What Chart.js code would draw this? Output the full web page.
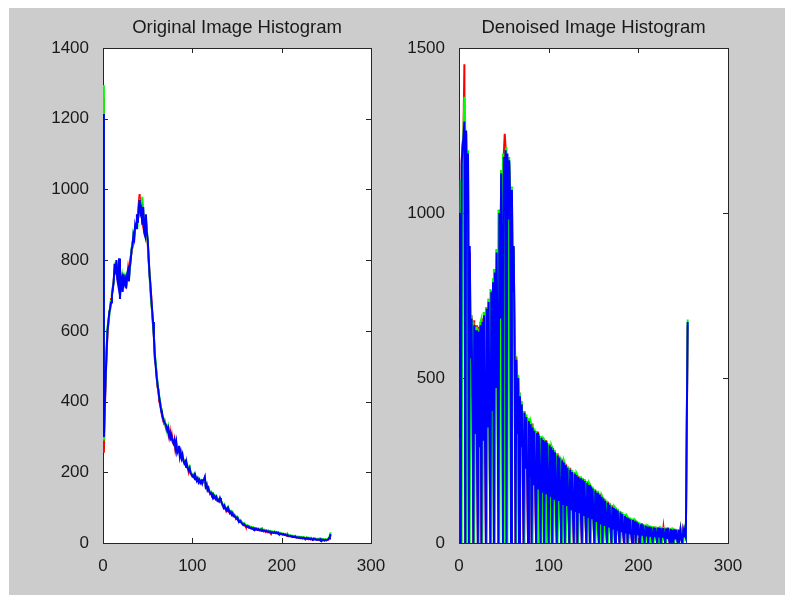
<!DOCTYPE html>
<html>
<head>
<meta charset="utf-8">
<title>Image Histograms</title>
<script src="https://cdn.jsdelivr.net/npm/chart.js@4.4.1/dist/chart.umd.min.js"></script>
<style>
  html, body { margin: 0; padding: 0; background: #ffffff; }
  body { width: 785px; height: 595px; position: relative; overflow: hidden; }
  #figure { position: absolute; left: 9px; top: 8px; width: 776px; height: 587px; background: #cccccc; }
  canvas { position: absolute; top: 0; }
  #left { left: 0; }
  #right { left: 392px; }
</style>
</head>
<body>
<div id="figure"></div>
<canvas id="left" width="392" height="595"></canvas>
<canvas id="right" width="393" height="595"></canvas>
<script>
// intensity bins 0..255
const bins = Array.from({ length: 256 }, (_, i) => i);

const xTicks = [0, 100, 200, 300];
const origTicks = [0, 200, 400, 600, 800, 1000, 1200, 1400];
const denTicks = [0, 500, 1000, 1500];

// Original image histogram (counts per bin)
const origRed = [
  1260, 255, 370, 460, 530, 590, 620, 655, 660, 690, 705,
  715, 745, 770, 770, 790, 750, 740, 790, 700, 735,
  745, 720, 750, 745, 740, 730, 750, 775, 750, 790,
  810, 820, 850, 860, 870, 890, 900, 920, 915, 960,
  987, 940, 930, 910, 940, 890, 880, 915, 875, 850,
  800, 770, 725, 700, 650, 615, 585, 520, 505, 475,
  440, 435, 400, 390, 380, 360, 350, 340, 345, 330,
  320, 325, 315, 300, 315, 290, 305, 285, 280, 292,
  265, 280, 260, 258, 270, 250, 252, 245, 245, 235,
  228, 225, 218, 218, 212, 200, 208, 200, 192, 188,
  190, 188, 182, 180, 178, 176, 175, 172, 172, 170,
  170, 172, 176, 180, 158, 162, 152, 150, 147, 138,
  140, 137, 135, 130, 128, 127, 126, 122, 118, 120,
  122, 118, 114, 105, 102, 100, 98, 90, 95, 92,
  88, 86, 85, 82, 80, 78, 75, 76, 68, 70,
  68, 62, 62, 60, 58, 53, 52, 50, 51, 46,
  47, 45, 45, 43, 44, 41, 42, 40, 40, 38,
  40, 38, 38, 37, 37, 35, 39, 34, 37, 33,
  36, 32, 35, 31, 34, 30, 33, 29, 32, 29,
  30, 30, 29, 28, 28, 27, 27, 26, 26, 25,
  25, 24, 24, 22, 23, 20, 23, 19, 20, 19,
  19, 17, 18, 17, 17, 16, 16, 15, 16, 14,
  15, 14, 14, 13, 15, 12, 13, 12, 13, 11,
  13, 10, 12, 10, 11, 11, 11, 10, 10, 9,
  11, 8, 10, 9, 9, 7, 10, 7, 8, 7,
  8, 9, 12, 17, 22
];
const origGreen = [
  1295, 290, 400, 480, 550, 610, 630, 640, 670, 685, 710,
  725, 735, 780, 770, 795, 760, 745, 795, 700, 750,
  760, 715, 765, 740, 750, 725, 765, 765, 745, 775,
  795, 835, 835, 875, 865, 895, 895, 925, 910, 945,
  960, 945, 950, 979, 945, 885, 865, 925, 890, 855,
  810, 765, 710, 680, 655, 620, 585, 535, 510, 480,
  455, 425, 415, 400, 380, 370, 360, 350, 335, 338,
  335, 315, 328, 310, 305, 300, 298, 292, 286, 288,
  275, 282, 262, 265, 272, 250, 255, 245, 248, 238,
  230, 228, 220, 225, 212, 210, 215, 200, 198, 192,
  190, 195, 184, 186, 180, 184, 175, 180, 172, 176,
  170, 175, 178, 185, 163, 168, 154, 158, 148, 143,
  145, 138, 140, 131, 135, 128, 132, 124, 125, 121,
  125, 122, 115, 110, 103, 108, 99, 96, 100, 93,
  95, 88, 90, 83, 87, 79, 81, 77, 73, 75,
  69, 67, 63, 65, 60, 58, 54, 56, 53, 50,
  49, 50, 47, 48, 45, 46, 43, 45, 42, 43,
  41, 42, 40, 41, 39, 40, 40, 37, 38, 36,
  37, 35, 36, 34, 35, 33, 34, 32, 33, 32,
  31, 33, 30, 31, 29, 31, 28, 29, 27, 28,
  26, 27, 25, 26, 24, 23, 24, 22, 21, 22,
  20, 21, 19, 20, 18, 19, 17, 18, 17, 18,
  16, 17, 15, 17, 16, 15, 14, 16, 14, 15,
  14, 13, 15, 13, 12, 14, 12, 13, 11, 12,
  12, 11, 13, 10, 12, 10, 11, 9, 11, 10,
  11, 12, 16, 24, 30
];
const origBlue = [
  1213, 300, 390, 470, 540, 600, 625, 650, 665, 680,
  700, 720, 740, 790, 760, 800, 745, 730, 805, 690,
  740, 750, 710, 760, 735, 745, 720, 760, 770, 740,
  780, 800, 830, 840, 870, 860, 900, 890, 930, 905,
  950, 970, 935, 945, 900, 950, 880, 870, 930, 880,
  860, 815, 760, 735, 690, 660, 625, 580, 530, 500,
  470, 450, 430, 410, 395, 375, 365, 355, 345, 340,
  335, 330, 318, 325, 305, 312, 296, 300, 288, 282,
  290, 270, 285, 255, 262, 275, 245, 258, 240, 250,
  232, 225, 230, 215, 222, 210, 205, 212, 198, 195,
  190, 187, 192, 180, 185, 176, 182, 172, 178, 170,
  175, 168, 178, 180, 187, 160, 165, 150, 155, 145,
  140, 142, 135, 138, 128, 132, 125, 130, 120, 122,
  118, 127, 120, 112, 108, 100, 105, 96, 93, 98,
  90, 92, 85, 88, 80, 84, 76, 78, 74, 70,
  72, 66, 64, 60, 62, 57, 55, 51, 53, 50,
  48, 46, 48, 44, 45, 42, 43, 40, 42, 39,
  41, 38, 40, 37, 39, 36, 37, 38, 35, 36,
  34, 35, 33, 34, 32, 33, 31, 32, 30, 31,
  30, 29, 31, 28, 30, 27, 29, 26, 27, 25,
  26, 24, 25, 23, 24, 22, 21, 22, 20, 19,
  20, 18, 19, 17, 18, 16, 17, 15, 16, 15,
  16, 14, 15, 13, 15, 14, 13, 12, 14, 12,
  13, 12, 11, 13, 11, 10, 12, 10, 11, 9,
  10, 10, 9, 11, 8, 10, 8, 9, 7, 9,
  8, 9, 10, 14, 20, 25
];

// Denoised image histogram (counts per bin, combed)
const denRed = [
  335, 990, 0, 1160, 1210, 1240, 1451, 0, 1240, 980,
  1170, 0, 880, 570, 690, 580, 0, 675, 340, 660,
  310, 0, 655, 300, 670, 0, 680, 320, 700, 340,
  0, 715, 355, 740, 380, 0, 765, 410, 795, 0,
  830, 480, 890, 570, 0, 1010, 690, 1130, 860, 0,
  1180, 1240, 1195, 0, 1170, 990, 1150, 1060, 0, 1065,
  770, 890, 610, 0, 565, 340, 505, 0, 455, 295,
  425, 265, 0, 400, 230, 388, 220, 0, 375, 205,
  365, 0, 362, 180, 345, 172, 0, 338, 166, 330,
  162, 0, 322, 156, 316, 0, 312, 152, 308, 148,
  0, 300, 144, 294, 0, 288, 138, 280, 134, 0,
  272, 131, 262, 126, 0, 254, 122, 248, 0, 240,
  116, 232, 110, 0, 228, 106, 220, 102, 0, 214,
  98, 210, 0, 204, 94, 200, 90, 0, 196, 86,
  192, 82, 0, 186, 80, 180, 0, 174, 76, 168,
  72, 0, 162, 68, 156, 64, 0, 150, 60, 144,
  0, 138, 56, 132, 54, 0, 126, 51, 120, 48,
  0, 114, 45, 110, 0, 106, 41, 102, 39, 0,
  96, 37, 92, 35, 0, 86, 33, 82, 0, 78,
  31, 75, 30, 0, 73, 29, 70, 0, 67, 28,
  63, 27, 0, 60, 26, 57, 25, 0, 55, 24,
  53, 0, 52, 23, 51, 22, 0, 50, 22, 49,
  21, 0, 48, 21, 47, 0, 47, 20, 47, 20,
  0, 46, 19, 47, 19, 0, 44, 19, 42, 0,
  43, 18, 42, 18, 0, 41, 17, 40, 17, 0,
  38, 24, 32, 20, 340, 660
];
const denGreen = [
  330, 750, 1100, 0, 1190, 1240, 1352, 1260, 0, 1010,
  1190, 1000, 0, 580, 690, 440, 670, 0, 345, 655,
  310, 650, 0, 300, 670, 680, 0, 320, 700, 340,
  715, 0, 360, 740, 380, 770, 0, 410, 800, 830,
  0, 480, 890, 580, 1010, 0, 700, 1130, 870, 1180,
  0, 1010, 1185, 1200, 0, 990, 1170, 1060, 1080, 0,
  770, 897, 610, 560, 0, 340, 510, 455, 0, 295,
  430, 265, 400, 0, 230, 390, 220, 378, 0, 205,
  368, 358, 0, 180, 348, 172, 340, 0, 166, 332,
  162, 325, 0, 156, 318, 314, 0, 152, 310, 148,
  302, 0, 144, 296, 288, 0, 138, 282, 134, 272,
  0, 131, 265, 126, 258, 0, 122, 250, 242, 0,
  116, 234, 110, 228, 0, 106, 222, 102, 216, 0,
  98, 212, 206, 0, 94, 202, 90, 198, 0, 86,
  194, 82, 188, 0, 80, 182, 176, 0, 76, 171,
  72, 164, 0, 68, 158, 64, 152, 0, 60, 146,
  140, 0, 56, 134, 54, 128, 0, 51, 122, 48,
  116, 0, 45, 112, 108, 0, 41, 104, 39, 98,
  0, 37, 94, 35, 88, 0, 33, 84, 80, 0,
  31, 77, 30, 74, 0, 29, 71, 68, 0, 28,
  64, 27, 61, 0, 26, 58, 25, 56, 0, 24,
  54, 52, 0, 23, 52, 22, 51, 0, 22, 50,
  21, 49, 0, 21, 48, 47, 0, 20, 48, 20,
  47, 0, 19, 48, 19, 46, 0, 19, 44, 43,
  0, 18, 43, 18, 42, 0, 17, 41, 17, 40,
  0, 24, 34, 22, 355, 677
];
const denBlue = [
  320, 1000, 0, 1150, 1200, 1230, 1277, 0, 1250, 1000,
  1180, 0, 900, 560, 680, 430, 0, 660, 330, 645,
  300, 0, 640, 290, 660, 0, 670, 310, 690, 330,
  0, 710, 350, 730, 370, 0, 760, 400, 790, 0,
  820, 470, 880, 560, 0, 1000, 680, 1120, 850, 0,
  1170, 1000, 1190, 0, 1180, 980, 1160, 1050, 0, 1070,
  760, 900, 600, 0, 555, 330, 500, 0, 445, 290,
  420, 260, 0, 395, 225, 382, 215, 0, 370, 200,
  360, 0, 350, 175, 340, 168, 0, 333, 162, 325,
  158, 0, 318, 152, 312, 0, 308, 148, 303, 144,
  0, 296, 140, 290, 0, 282, 134, 275, 130, 0,
  265, 127, 258, 122, 0, 250, 118, 244, 0, 236,
  112, 228, 106, 0, 222, 102, 215, 98, 0, 210,
  94, 206, 0, 200, 90, 196, 86, 0, 192, 82,
  188, 78, 0, 182, 76, 176, 0, 170, 72, 165,
  68, 0, 158, 64, 152, 60, 0, 146, 56, 140,
  0, 134, 52, 128, 50, 0, 122, 47, 116, 44,
  0, 110, 41, 106, 0, 102, 37, 98, 35, 0,
  92, 33, 88, 31, 0, 82, 29, 78, 0, 75,
  27, 72, 26, 0, 70, 25, 67, 0, 64, 24,
  60, 23, 0, 57, 22, 55, 21, 0, 52, 20,
  50, 0, 49, 19, 48, 18, 0, 47, 18, 46,
  17, 0, 46, 17, 45, 0, 44, 16, 45, 16,
  0, 44, 15, 45, 15, 0, 42, 15, 40, 0,
  41, 14, 40, 14, 0, 39, 13, 38, 13, 0,
  36, 20, 30, 18, 350, 670
];

const textColor = '#1a1a1a';
const tickFont = { family: '"Liberation Sans", Arial, sans-serif', size: 17 };

// white axes background, box with inward ticks on all four sides, title
const matlabAxes = {
  id: 'matlabAxes',
  beforeDraw(chart) {
    const { ctx, chartArea: a } = chart;
    ctx.save();
    ctx.fillStyle = '#ffffff';
    ctx.fillRect(a.left, a.top, a.right - a.left, a.bottom - a.top);
    ctx.restore();
  },
  beforeDatasetsDraw(chart) {
    const { ctx, chartArea: a, scales } = chart;
    const len = 5;
    ctx.save();
    ctx.strokeStyle = '#262626';
    ctx.lineWidth = 1;
    ctx.strokeRect(a.left + 0.5, a.top + 0.5, a.right - a.left, a.bottom - a.top);
    ctx.beginPath();
    scales.x.ticks.forEach(t => {
      const px = Math.round(scales.x.getPixelForValue(t.value)) + 0.5;
      ctx.moveTo(px, a.bottom); ctx.lineTo(px, a.bottom - len);
      ctx.moveTo(px, a.top); ctx.lineTo(px, a.top + len);
    });
    scales.y.ticks.forEach(t => {
      const py = Math.round(scales.y.getPixelForValue(t.value)) + 0.5;
      ctx.moveTo(a.left, py); ctx.lineTo(a.left + len, py);
      ctx.moveTo(a.right, py); ctx.lineTo(a.right - len, py);
    });
    ctx.stroke();
    ctx.restore();
  },
  afterDraw(chart, args, opts) {
    const { ctx, chartArea: a } = chart;
    ctx.save();
    ctx.fillStyle = textColor;
    ctx.font = '18.5px "Liberation Sans", Arial, sans-serif';
    ctx.textAlign = 'center';
    ctx.textBaseline = 'alphabetic';
    ctx.fillText(opts.title, (a.left + a.right) / 2, 33);
    ctx.restore();
  }
};

function histogramChart(canvasId, title, red, green, blue, yTicks, pad) {
  const points = arr => bins.map((b, i) => ({ x: b, y: arr[i] }));
  const line = (label, arr, color) => ({
    label: label,
    data: points(arr),
    borderColor: color,
    borderWidth: 2,
    pointRadius: 0,
    tension: 0,
    fill: false
  });
  return new Chart(document.getElementById(canvasId), {
    type: 'line',
    data: {
      // first dataset is drawn on top
      datasets: [line('Blue', blue, '#0000ff'), line('Green', green, '#00ff00'), line('Red', red, '#ff0000')]
    },
    options: {
      responsive: false,
      animation: false,
      devicePixelRatio: 1,
      events: [],
      layout: { padding: pad },
      plugins: {
        legend: { display: false },
        tooltip: { enabled: false },
        matlabAxes: { title: title }
      },
      scales: {
        x: {
          type: 'linear',
          min: xTicks[0],
          max: xTicks[xTicks.length - 1],
          grid: { display: false },
          border: { display: false },
          ticks: { color: textColor, font: tickFont, padding: 5, callback: v => String(v) },
          afterBuildTicks: s => { s.ticks = xTicks.map(v => ({ value: v })); },
          afterFit: s => { s.height = 30; }
        },
        y: {
          type: 'linear',
          min: yTicks[0],
          max: yTicks[yTicks.length - 1],
          grid: { display: false },
          border: { display: false },
          ticks: { color: textColor, font: tickFont, padding: 6, callback: v => String(v) },
          afterBuildTicks: s => { s.ticks = yTicks.map(v => ({ value: v })); },
          afterFit: s => { s.width = 60; }
        }
      }
    },
    plugins: [matlabAxes]
  });
}

histogramChart('left', 'Original Image Histogram', origRed, origGreen, origBlue, origTicks,
  { left: 43, top: 48, right: 21, bottom: 22 });
histogramChart('right', 'Denoised Image Histogram', denRed, denGreen, denBlue, denTicks,
  { left: 7, top: 48, right: 57, bottom: 22 });
</script>
</body>
</html>
